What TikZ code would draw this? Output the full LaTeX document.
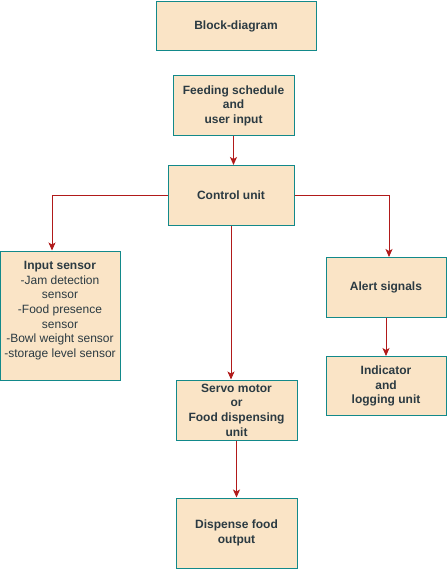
\documentclass[tikz,border=0pt]{standalone}
\usepackage{fontspec}
\setmainfont{Liberation Sans}
\usetikzlibrary{arrows.meta}
\definecolor{boxfill}{HTML}{FAE4C6}
\definecolor{boxline}{HTML}{12898A}
\definecolor{arr}{HTML}{B11A1A}
\definecolor{txt}{HTML}{2B3A42}
\begin{document}
\begin{tikzpicture}[x=1pt,y=-1pt,
  blk/.style={draw=boxline,fill=boxfill,line width=1pt,text=txt,align=center,inner sep=0pt,
    font=\fontsize{12}{14.6}\selectfont},
  bblk/.style={blk,font=\fontsize{12}{14.6}\selectfont\bfseries},
  conn/.style={draw=arr,line width=0.9pt,-{Stealth[length=8pt,width=7pt,inset=2pt]}}]
\useasboundingbox (0,0) rectangle (447,569);
\node[bblk,minimum width=160pt,minimum height=49pt] (title) at (236,26) {Block-diagram};
\node[bblk,minimum width=121pt,minimum height=60pt] (feed) at (233.5,105.5) {Feeding schedule\\and\\user input};
\node[bblk,minimum width=126pt,minimum height=60pt] (ctrl) at (231,195.5) {Control unit};
\node[blk,minimum width=120pt,minimum height=129pt] (input) at (60,315.5) {};
\node[text=txt,align=center,font=\fontsize{12}{14.6}\selectfont,anchor=north] (inputtxt) at (60,258) {\textbf{Input sensor}\\-Jam detection\\sensor\\-Food presence\\sensor\\-Bowl weight sensor\\-storage level sensor};
\node[bblk,minimum width=120pt,minimum height=60pt] (alert) at (386,287.5) {Alert signals};
\node[bblk,minimum width=120pt,minimum height=59pt] (ind) at (386,386) {Indicator\\and\\logging unit};
\node[bblk,minimum width=121pt,minimum height=60pt] (servo) at (236.5,410) {Servo motor\\or\\Food dispensing\\unit};
\node[bblk,minimum width=121pt,minimum height=70pt] (disp) at (236.5,533) {Dispense food\\output};
\draw[conn] (feed.south) -- (feed.south |- ctrl.north);
\draw[conn] (ctrl.west) -| (input.north -| 52,0);
\draw[conn] (ctrl.east) -| (alert.north -| 389,0);
\draw[conn] (ctrl.south) -- (ctrl.south |- servo.north);
\draw[conn] (servo.south) -- (disp.north);
\draw[conn] (alert.south) -- (ind.north);
\end{tikzpicture}
\end{document}
